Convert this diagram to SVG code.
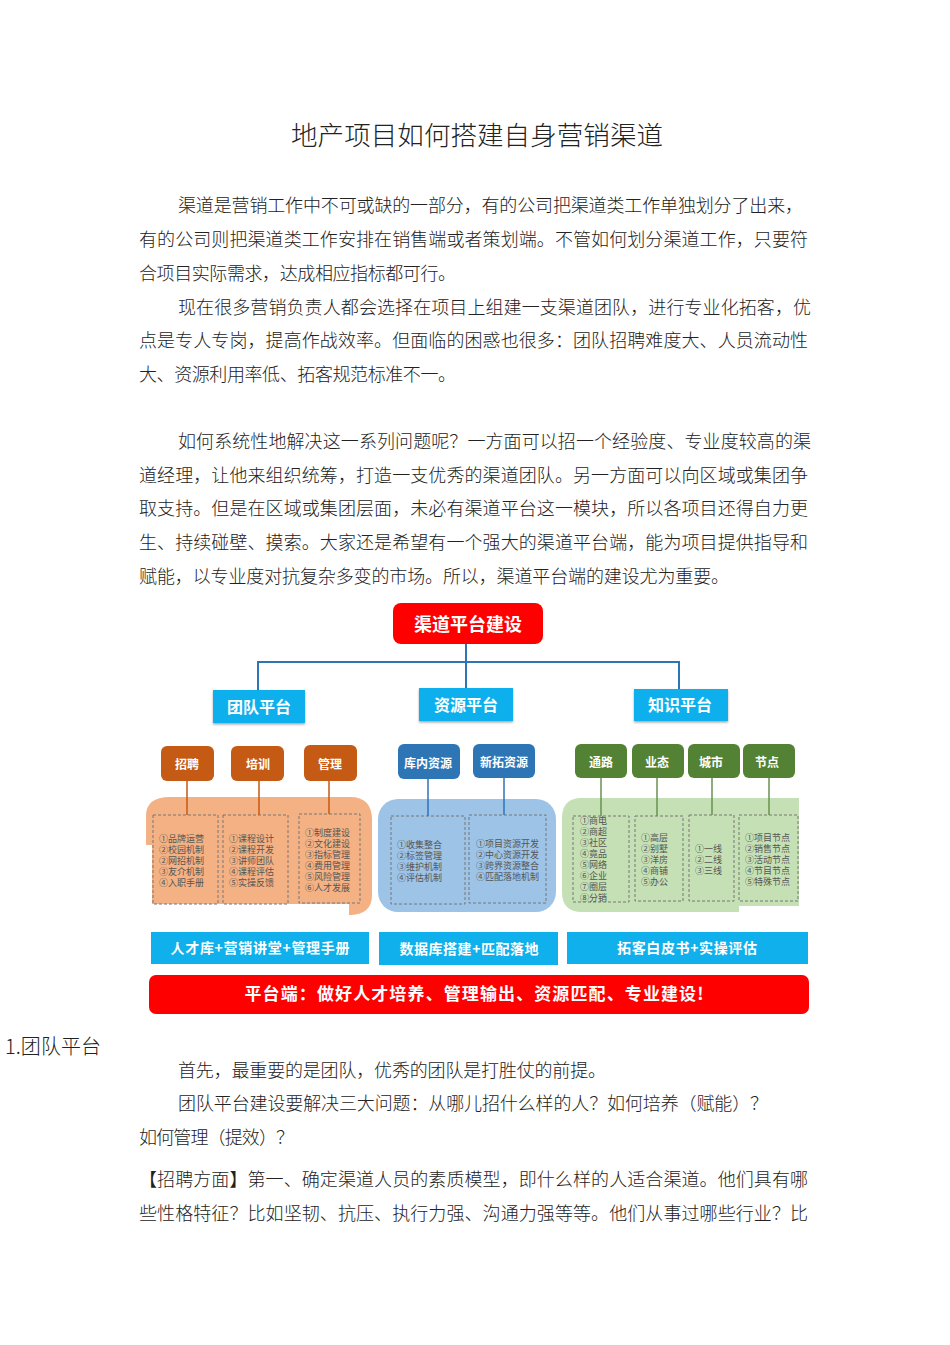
<svg xmlns="http://www.w3.org/2000/svg" width="950" height="1345" viewBox="0 0 950 1345">
<style>
text{font-family:"Noto Sans CJK SC","Liberation Sans",sans-serif}
.b{font-size:18px;fill:#222;font-weight:300}
.t{font-size:26.5px;fill:#222;font-weight:300}
.w{fill:#fff;font-weight:700;text-anchor:middle}
.s{font-size:9px;fill:#555;font-weight:400}
.d{fill:none;stroke:#777;stroke-width:1;stroke-dasharray:3 2}
.blue{fill:#0fb0ec;filter:url(#sh)}
.org{fill:#c55a14}
.bl2{fill:#2e75b6}
.grn{fill:#548235}
.bar{fill:#0fb0ec}
</style>
<defs><filter id="sh" x="-10%" y="-10%" width="120%" height="130%"><feDropShadow dx="0" dy="1.5" stdDeviation="1" flood-color="#000" flood-opacity="0.35"/></filter></defs>
<rect width="950" height="1345" fill="#fff"/>
<g id="article-top">
<text class="t" x="291" y="145" textLength="372">地产项目如何搭建自身营销渠道</text>
<text class="b" x="178" y="212" textLength="625">渠道是营销工作中不可或缺的一部分，有的公司把渠道类工作单独划分了出来，</text>
<text class="b" x="139" y="246" textLength="669">有的公司则把渠道类工作安排在销售端或者策划端。不管如何划分渠道工作，只要符</text>
<text class="b" x="139" y="280" textLength="317">合项目实际需求，达成相应指标都可行。</text>
<text class="b" x="178" y="314" textLength="633">现在很多营销负责人都会选择在项目上组建一支渠道团队，进行专业化拓客，优</text>
<text class="b" x="139" y="347" textLength="669">点是专人专岗，提高作战效率。但面临的困惑也很多：团队招聘难度大、人员流动性</text>
<text class="b" x="139" y="381" textLength="317">大、资源利用率低、拓客规范标准不一。</text>
<text class="b" x="178" y="448" textLength="633">如何系统性地解决这一系列问题呢？一方面可以招一个经验度、专业度较高的渠</text>
<text class="b" x="139" y="482" textLength="669">道经理，让他来组织统筹，打造一支优秀的渠道团队。另一方面可以向区域或集团争</text>
<text class="b" x="139" y="515" textLength="669">取支持。但是在区域或集团层面，未必有渠道平台这一模块，所以各项目还得自力更</text>
<text class="b" x="139" y="549" textLength="669">生、持续碰壁、摸索。大家还是希望有一个强大的渠道平台端，能为项目提供指导和</text>
<text class="b" x="139" y="583" textLength="590">赋能，以专业度对抗复杂多变的市场。所以，渠道平台端的建设尤为重要。</text>
</g>
<g id="panel-team">
<path d="M146 845V816Q146 797 170 797H350Q372 797 372 820V895Q372 915 349 915V904H152V845Z" fill="#f4b183"/>
<rect class="d" x="153" y="815" width="65" height="89"/>
<rect class="d" x="223" y="815" width="65" height="89"/>
<rect class="d" x="299" y="814" width="61" height="89"/>
<text class="s" x="159" y="842">①品牌运营</text><text class="s" x="159" y="853">②校园机制</text><text class="s" x="159" y="864">②网招机制</text><text class="s" x="159" y="875">③友介机制</text><text class="s" x="159" y="886">④入职手册</text>
<text class="s" x="229" y="842">①课程设计</text><text class="s" x="229" y="853">②课程开发</text><text class="s" x="229" y="864">③讲师团队</text><text class="s" x="229" y="875">④课程评估</text><text class="s" x="229" y="886">⑤实操反馈</text>
<text class="s" x="305" y="836">①制度建设</text><text class="s" x="305" y="847">②文化建设</text><text class="s" x="305" y="858">③指标管理</text><text class="s" x="305" y="869">④费用管理</text><text class="s" x="305" y="880">⑤风险管理</text><text class="s" x="305" y="891">⑥人才发展</text>
</g>
<g id="panel-resource">
<rect x="378" y="799" width="178" height="113" rx="20" fill="#9dc3e6"/>
<rect class="d" x="391" y="816" width="74" height="88"/>
<rect class="d" x="469" y="815" width="77" height="88"/>
<text class="s" x="397" y="848">①收集整合</text><text class="s" x="397" y="859">②标签管理</text><text class="s" x="397" y="870">③维护机制</text><text class="s" x="397" y="881">④评估机制</text>
<text class="s" x="476" y="847">①项目资源开发</text><text class="s" x="476" y="858">②中心资源开发</text><text class="s" x="476" y="869">③跨界资源整合</text><text class="s" x="476" y="880">④匹配落地机制</text>
</g>
<g id="panel-knowledge">
<path d="M582 798H799V906H739V912H582Q562 912 562 892V818Q562 798 582 798Z" fill="#c5e0b4"/>
<rect class="d" x="573" y="816" width="56" height="86"/>
<rect class="d" x="635" y="816" width="48" height="85"/>
<rect class="d" x="689" y="815" width="45" height="86"/>
<rect class="d" x="739" y="815" width="59" height="86"/>
<g style="fill:#4d5b46"><text class="s" x="580" y="824">①商电</text><text class="s" x="580" y="835">②商超</text><text class="s" x="580" y="846">③社区</text><text class="s" x="580" y="857">④竟品</text><text class="s" x="580" y="868">⑤网络</text><text class="s" x="580" y="879">⑥企业</text><text class="s" x="580" y="890">⑦圈层</text><text class="s" x="580" y="901">⑧分销</text>
<text class="s" x="641" y="841">①高层</text><text class="s" x="641" y="852">②别墅</text><text class="s" x="641" y="863">③洋房</text><text class="s" x="641" y="874">④商铺</text><text class="s" x="641" y="885">⑤办公</text>
<text class="s" x="695" y="852">①一线</text><text class="s" x="695" y="863">②二线</text><text class="s" x="695" y="874">③三线</text>
<text class="s" x="745" y="841">①项目节点</text><text class="s" x="745" y="852">②销售节点</text><text class="s" x="745" y="863">③活动节点</text><text class="s" x="745" y="874">④节目节点</text><text class="s" x="745" y="885">⑤特殊节点</text></g>
</g>
<g id="connectors" fill="none" stroke-width="2">
<path d="M466 643V700M258 690V662H679V690" stroke="#2e75b6"/>
<path d="M187 780V815M259 780V815M329 780V814" stroke="#c55a14" stroke-width="1.5"/>
<path d="M428 778V816M504 778V815" stroke="#2e75b6" stroke-width="1.5"/>
<path d="M601 778V816M657 778V816M712 778V815M769 778V815" stroke="#6b9150" stroke-width="1.5"/>
</g>
<g id="node-root"><rect x="393" y="603" width="150" height="41" rx="8" fill="#f00"/><text class="w" x="468" y="631" font-size="18">渠道平台建设</text></g>
<g id="node-team"><rect class="blue" x="213" y="690" width="92" height="33"/><text class="w" x="259" y="713" font-size="16">团队平台</text></g>
<g id="node-res"><rect class="blue" x="419" y="688" width="94" height="33"/><text class="w" x="466" y="711" font-size="16">资源平台</text></g>
<g id="node-know"><rect class="blue" x="634" y="689" width="94" height="32"/><text class="w" x="680" y="711" font-size="16">知识平台</text></g>
<g id="node-zp"><rect class="org" x="161" y="746" width="53" height="35" rx="6"/><text class="w" x="187" y="769" font-size="12">招聘</text></g>
<g id="node-px"><rect class="org" x="231" y="746" width="53" height="35" rx="6"/><text class="w" x="258" y="769" font-size="12">培训</text></g>
<g id="node-gl"><rect class="org" x="304" y="745" width="53" height="36" rx="6"/><text class="w" x="330" y="769" font-size="12">管理</text></g>
<g id="node-kn"><rect class="bl2" x="398" y="744" width="62" height="35" rx="6"/><text class="w" x="428" y="768" font-size="12">库内资源</text></g>
<g id="node-xt"><rect class="bl2" x="473" y="744" width="62" height="34" rx="6"/><text class="w" x="504" y="767" font-size="12">新拓资源</text></g>
<g id="node-tl"><rect class="grn" x="575" y="744" width="52" height="34" rx="6"/><text class="w" x="601" y="767" font-size="12">通路</text></g>
<g id="node-yt"><rect class="grn" x="632" y="744" width="52" height="34" rx="6"/><text class="w" x="657" y="767" font-size="12">业态</text></g>
<g id="node-cs"><rect class="grn" x="688" y="744" width="52" height="34" rx="6"/><text class="w" x="711" y="767" font-size="12">城市</text></g>
<g id="node-jd"><rect class="grn" x="743" y="744" width="52" height="34" rx="6"/><text class="w" x="767" y="767" font-size="12">节点</text></g>
<g id="bar-1"><rect class="bar" x="151" y="932" width="218" height="32"/><text class="w" x="260" y="953" font-size="14" textLength="179">人才库+营销讲堂+管理手册</text></g>
<g id="bar-2"><rect class="bar" x="379" y="932" width="179" height="33"/><text class="w" x="469" y="954" font-size="14" textLength="139">数据库搭建+匹配落地</text></g>
<g id="bar-3"><rect class="bar" x="567" y="932" width="241" height="32"/><text class="w" x="687" y="953" font-size="14" textLength="140">拓客白皮书+实操评估</text></g>
<g id="bar-platform"><rect x="149" y="975" width="660" height="39" rx="7" fill="#f00"/><text class="w" x="474" y="1000" font-size="17" textLength="459">平台端：做好人才培养、管理输出、资源匹配、专业建设!</text></g>
<g id="article-bottom">
<text x="5" y="1054" font-size="20" fill="#222" font-weight="300" textLength="96">1.团队平台</text>
<text class="b" x="178" y="1077" textLength="428">首先，最重要的是团队，优秀的团队是打胜仗的前提。</text>
<text class="b" x="178" y="1110" textLength="590">团队平台建设要解决三大问题：从哪儿招什么样的人？如何培养（赋能）？</text>
<text class="b" x="139" y="1144" textLength="155">如何管理（提效）？</text>
<text class="b" x="139" y="1186" textLength="669">【招聘方面】第一、确定渠道人员的素质模型，即什么样的人适合渠道。他们具有哪</text>
<text class="b" x="139" y="1220" textLength="669">些性格特征？比如坚韧、抗压、执行力强、沟通力强等等。他们从事过哪些行业？比</text>
</g>
</svg>
